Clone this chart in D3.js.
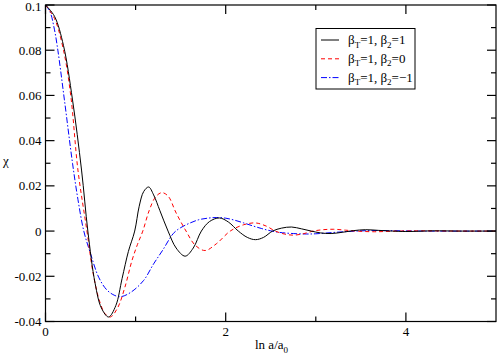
<!DOCTYPE html>
<html>
<head>
<meta charset="utf-8">
<script src="https://cdn.jsdelivr.net/npm/d3@7"></script>
<style>
  body { margin: 0; background: #fff; }
  svg { display: block; }
</style>
</head>
<body>
<svg id="chart" width="498" height="355"></svg>
<script>
// values
const xBlack = [0, 0.1, 0.2, 0.3, 0.4, 0.47, 0.55, 0.62, 0.70, 0.78, 0.85, 0.92, 0.99, 1.04, 1.09, 1.145, 1.2, 1.27, 1.36, 1.45, 1.55, 1.64, 1.73, 1.82, 1.93, 2.03, 2.14, 2.24, 2.33, 2.42, 2.52, 2.62, 2.73, 2.84, 2.95, 3.05, 3.17, 3.3, 3.42, 3.55, 3.7, 3.85, 4.0, 4.3, 4.6, 5.0];
const yBlack = [0.1, 0.095, 0.082, 0.058, 0.027, 0.0, -0.023, -0.034, -0.038, -0.033, -0.021, -0.009, 0.0, 0.011, 0.0175, 0.0195, 0.016, 0.009, 0.0, -0.0075, -0.0111, -0.0075, 0.0, 0.0042, 0.0058, 0.004, 0.0, -0.0028, -0.0038, -0.0028, 0.0, 0.0013, 0.0018, 0.001, 0.0, -0.0008, -0.0011, -0.0005, 0.0002, 0.0006, 0.0003, 0.0, -0.0002, 0.0001, 0.0, 0.0];

const xRed = [0, 0.1, 0.2, 0.28, 0.36, 0.46, 0.53, 0.6, 0.66, 0.72, 0.8, 0.88, 0.96, 1.02, 1.08, 1.15, 1.22, 1.29, 1.36, 1.45, 1.56, 1.66, 1.77, 1.9, 2.05, 2.2, 2.33, 2.45, 2.55, 2.65, 2.75, 2.86, 2.97, 3.08, 3.2, 3.33, 3.45, 3.65, 3.9, 4.2, 4.6, 5.0];
const yRed = [0.1, 0.094, 0.08, 0.06, 0.027, 0.0, -0.019, -0.031, -0.0365, -0.038, -0.034, -0.025, -0.013, -0.006, 0.0, 0.009, 0.015, 0.017, 0.0155, 0.008, 0.0, -0.0062, -0.0086, -0.0055, 0.0, 0.0028, 0.0036, 0.0022, 0.0, -0.0013, -0.0018, -0.0012, 0.0, 0.0006, 0.0008, 0.0004, 0.0, -0.0003, 0.0, 0.0001, 0.0, 0.0];

const xBlue = [0, 0.05, 0.1, 0.137, 0.21, 0.3, 0.36, 0.425, 0.5, 0.59, 0.68, 0.77, 0.84, 0.95, 1.09, 1.2, 1.3, 1.42, 1.5, 1.6, 1.7, 1.8, 1.9, 2.0, 2.1, 2.2, 2.3, 2.4, 2.5, 2.6, 2.75, 2.9, 3.0, 3.2, 3.4, 3.6, 3.8, 4.2, 5.0];
const yBlue = [0.1, 0.097, 0.089, 0.08, 0.058, 0.03, 0.014, 0.0, -0.01, -0.0204, -0.026, -0.0285, -0.029, -0.027, -0.0218, -0.0145, -0.0085, -0.001, 0.0015, 0.0035, 0.005, 0.0057, 0.006, 0.0057, 0.0048, 0.0036, 0.0023, 0.0011, 0.0001, -0.0006, -0.0011, -0.0013, -0.0012, -0.0006, -0.0001, 0.0002, 0.0002, 0.0, 0.0];

const yMajor = [0.1, 0.08, 0.06, 0.04, 0.02, 0, -0.02, -0.04];
const yLabels = ["0.1", "0.08", "0.06", "0.04", "0.02", "0", "-0.02", "-0.04"];
const yMinor = [0.09, 0.07, 0.05, 0.03, 0.01, -0.01, -0.03];
const xMajor = [0, 2, 4];
const xLabels = ["0", "2", "4"];
const xMinor = [1, 3];

const legendItems = [
  { t: "T", a: "=1, β", s: "2", b: "=1", color: "#000", dash: null },
  { t: "T", a: "=1, β", s: "2", b: "=0", color: "#ff0000", dash: "4,3" },
  { t: "T", a: "=1, β", s: "2", b: "=\u22121", color: "#0000ff", dash: "6,2,1.5,2" }
];

const serif = "Liberation Serif";
const svg = d3.select("#chart").attr("font-family", serif);
const pLeft = 45.5, pRight = 496, pTop = 5, pBottom = 321.5;

const x = d3.scaleLinear().domain([0, 5]).range([pLeft, pRight]);
const y = d3.scaleLinear().domain([-0.04, 0.1]).range([pBottom, pTop]);

svg.append("defs").append("clipPath").attr("id", "clip")
  .append("rect").attr("x", pLeft).attr("y", pTop).attr("width", pRight - pLeft).attr("height", pBottom - pTop);

const line = d3.line()
  .x(d => x(d[0]))
  .y(d => y(d[1]))
  .curve(d3.curveCatmullRom.alpha(0.5));

const series = [
  { xs: xBlue, ys: yBlue, color: "#0000ff", dash: "6,2,1.5,2" },
  { xs: xRed, ys: yRed, color: "#ff0000", dash: "4,3" },
  { xs: xBlack, ys: yBlack, color: "#000", dash: null }
];

const plot = svg.append("g").attr("clip-path", "url(#clip)");
series.forEach(s => {
  plot.append("path")
    .datum(d3.zip(s.xs, s.ys))
    .attr("d", line)
    .attr("fill", "none")
    .attr("stroke", s.color)
    .attr("stroke-width", 1)
    .attr("stroke-dasharray", s.dash);
});

// frame
svg.append("rect")
  .attr("x", pLeft).attr("y", pTop)
  .attr("width", pRight - pLeft).attr("height", pBottom - pTop)
  .attr("fill", "none").attr("stroke", "#000").attr("stroke-width", 1.2);

// ticks pointing inward on all four sides
const ticks = svg.append("g").attr("stroke", "#000").attr("stroke-width", 1.2);
function yTick(v, len) {
  ticks.append("line").attr("x1", pLeft).attr("x2", pLeft + len).attr("y1", y(v)).attr("y2", y(v));
  ticks.append("line").attr("x1", pRight).attr("x2", pRight - len).attr("y1", y(v)).attr("y2", y(v));
}
function xTick(v, len) {
  ticks.append("line").attr("x1", x(v)).attr("x2", x(v)).attr("y1", pBottom).attr("y2", pBottom - len);
  ticks.append("line").attr("x1", x(v)).attr("x2", x(v)).attr("y1", pTop).attr("y2", pTop + len);
}
yMajor.forEach(v => yTick(v, 9));
yMinor.forEach(v => yTick(v, 5));
xMajor.forEach(v => xTick(v, 9));
xMinor.forEach(v => xTick(v, 5));

svg.append("g").selectAll("text").data(yMajor).join("text")
  .attr("font-family", serif)
  .attr("x", pLeft - 4).attr("y", d => Math.max(y(d) + 4.5, 10.5))
  .attr("text-anchor", "end").attr("font-size", 13)
  .text((d, i) => yLabels[i]);

svg.append("g").selectAll("text").data(xMajor).join("text")
  .attr("font-family", serif)
  .attr("x", d => x(d)).attr("y", 336)
  .attr("text-anchor", "middle").attr("font-size", 13)
  .text((d, i) => xLabels[i]);

// axis titles
const xt = svg.append("text").attr("font-family", serif).attr("x", 255).attr("y", 349).attr("font-size", 13);
xt.append("tspan").text("ln a/a");
xt.append("tspan").attr("dy", 3.5).attr("font-size", 9).text("0");

svg.append("text").attr("font-family", serif).attr("x", 6).attr("y", 165).attr("text-anchor", "middle")
  .attr("font-size", 13).text("χ");

// legend
const lg = svg.append("g");
lg.append("rect").attr("x", 316).attr("y", 28.5).attr("width", 99).attr("height", 60.5)
  .attr("fill", "#fff").attr("stroke", "#000").attr("stroke-width", 1);
legendItems.forEach((d, i) => {
  const cy = 40 + i * 18.8;
  lg.append("line").attr("x1", 321).attr("x2", 339).attr("y1", cy).attr("y2", cy)
    .attr("stroke", d.color).attr("stroke-width", 1).attr("stroke-dasharray", d.dash);
  const t = lg.append("text").attr("font-family", serif).attr("x", 348).attr("y", cy + 4).attr("font-size", 13);
  t.append("tspan").text("β");
  t.append("tspan").attr("dy", 3.5).attr("font-size", 9).text(d.t);
  t.append("tspan").attr("dy", -3.5).text(d.a);
  t.append("tspan").attr("dy", 3.5).attr("font-size", 9).text(d.s);
  t.append("tspan").attr("dy", -3.5).text(d.b);
});
</script>
</body>
</html>
